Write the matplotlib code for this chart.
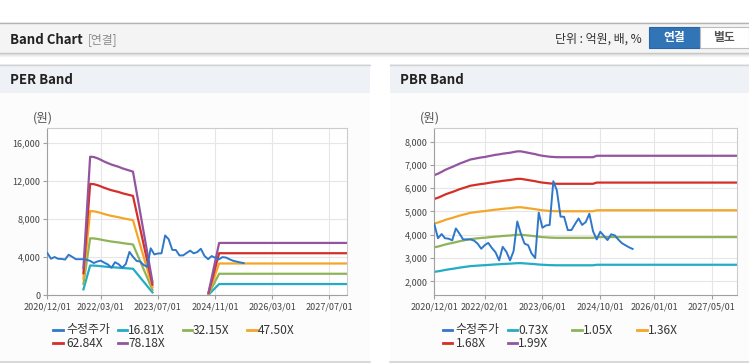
import numpy as np
import pandas as pd
import matplotlib
matplotlib.use('Agg')
import matplotlib.pyplot as plt
from matplotlib.patches import Rectangle
from matplotlib.lines import Line2D

plt.rcParams['font.family'] = ['Noto Sans CJK KR', 'DejaVu Sans']

W, H = 749, 364

# 수정주가 (월별, 2020/12 ~ 2025/07)
price_dates = pd.date_range('2020-12-01', periods=56, freq='MS')
price = [4460, 3850, 4030, 3850, 3830, 3760, 4270, 4050, 3800, 3800,
         3800, 3750, 3620, 3400, 3560, 3650, 3430, 3250, 2900, 3480,
         3270, 2900, 3300, 4570, 4050, 3620, 3550, 3200, 3000, 4950,
         4300, 4400, 4420, 6300, 5900, 4780, 4770, 4200, 4200, 4450,
         4700, 4420, 4550, 4900, 4150, 3800, 4130, 3950, 3770, 4020,
         3970, 3800, 3640, 3550, 3460, 3390]

# PBR band 기준 BPS
bps_dates = list(pd.date_range('2020-12-01', periods=46, freq='MS')) + [pd.Timestamp('2027-12-01')]
bps = [3296, 3327, 3367, 3407, 3442, 3472, 3508, 3543, 3573, 3603,
       3633, 3648, 3663, 3678, 3688, 3704, 3719, 3734, 3744, 3759,
       3769, 3779, 3794, 3809, 3809, 3794, 3779, 3764, 3749, 3729,
       3714, 3704, 3693, 3688, 3683, 3683, 3683, 3683, 3683, 3683,
       3683, 3683, 3683, 3683, 3683, 3714, 3714]
pbr_multiples = [0.73, 1.05, 1.36, 1.68, 1.99]

# PER band 기준 EPS (적자 구간은 공백)
eps_dates = pd.to_datetime(['2021-10-05', '2021-12-01', '2022-01-01', '2022-02-01', '2022-03-01',
                            '2022-04-01', '2022-05-01', '2022-06-01', '2022-07-01', '2022-08-01',
                            '2022-09-01', '2022-10-01', '2022-11-01', '2022-12-01', '2023-05-16',
                            '2024-01-01', '2024-09-05', '2024-12-04', '2027-12-01'])
eps = [37, 186.6, 186.2, 184.5, 182.5, 180, 178, 176, 174.5, 173,
       171, 169.5, 168, 166.5, 18, np.nan, 4, 70.5, 70.5]
per_multiples = [16.81, 32.15, 47.50, 62.84, 78.18]

per_xticks = ['2020-12-01', '2022-03-01', '2023-07-01', '2024-11-01', '2026-03-01', '2027-07-01']
pbr_xticks = ['2020-12-01', '2022-02-01', '2023-06-01', '2024-10-01', '2026-01-01', '2027-05-01']
per_yticks = [0, 4000, 8000, 12000, 16000]
pbr_yticks = [2000, 3000, 4000, 5000, 6000, 7000, 8000]

price_color = '#2f78c9'
band_colors = ['#22acc5', '#8fb457', '#f4a62a', '#d42f28', '#93559f']

fig = plt.figure(figsize=(W / 100, H / 100), dpi=100)


def fx(x):
    return x / W


def fy(y):
    return 1 - y / H


def box(x0, y0, x1, y1, zorder=-5, **kw):
    fig.add_artist(Rectangle((fx(x0), fy(y1)), (x1 - x0) / W, (y1 - y0) / H,
                             transform=fig.transFigure, zorder=zorder, **kw))


def hline(x0, x1, y, zorder=-4, **kw):
    fig.add_artist(Line2D([fx(x0), fx(x1)], [fy(y), fy(y)], transform=fig.transFigure,
                          zorder=zorder, **kw))


# 상단 헤더
box(0, 22, W, 53, facecolor='#f4f4f4', edgecolor='none')
hline(0, W, 22.5, color='#b4b4b4', lw=1)
for i, c in enumerate(['#c4c4c4', '#d8d8d8', '#e8e8e8', '#f3f3f3']):
    hline(0, W, 53 + i, color=c, lw=1)
fig.text(fx(10.5), fy(39.5), 'Band Chart', fontsize=9.5, fontweight='bold', color='#222',
         va='center', ha='left')
fig.text(fx(88), fy(39.5), '[연결]', fontsize=8.5, color='#8a8a8a', va='center', ha='left')
fig.text(fx(641.5), fy(39.5), '단위 : 억원, 배, %', fontsize=8.6, color='#333', va='center', ha='right')
box(648.5, 27.5, 700, 47.5, zorder=2, facecolor='#3175b7', edgecolor='#2a66a3', lw=0.8)
box(700, 27.5, 748.5, 47.5, zorder=2, facecolor='white', edgecolor='#bdbdbd', lw=0.8)
fig.text(fx(674), fy(37.8), '연결', fontsize=8.5, fontweight='bold', color='white',
         va='center', ha='center', zorder=3)
fig.text(fx(724), fy(37.8), '별도', fontsize=8.5, fontweight='bold', color='#555',
         va='center', ha='center', zorder=3)


def panel(x0, x1, title):
    box(x0, 64, x1, 93, facecolor='#eef1f6', edgecolor='none')
    box(x0, 93, x1, 362, facecolor='#fcfcfc', edgecolor='none')
    hline(x0, x1, 64.5, color='#d2d2d2', lw=1)
    hline(x0, x1, 362, color='#d2d2d2', lw=1.2)
    fig.text(fx(x0 + 10.5), fy(80), title, fontsize=9.5, fontweight='bold', color='#222',
             va='center', ha='left')


panel(0, 370, 'PER Band')
panel(389.5, W, 'PBR Band')


def setup_axes(rect, yticks, ylim, xticks):
    x0, y0, x1, y1 = rect
    ax = fig.add_axes([fx(x0), fy(y1), (x1 - x0) / W, (y1 - y0) / H])
    ax.set_facecolor('white')
    ax.set_xlim(pd.Timestamp('2020-12-01'), pd.Timestamp('2027-12-01'))
    ax.set_ylim(*ylim)
    ax.set_yticks(yticks)
    ax.set_yticklabels([f'{v:,}' for v in yticks])
    xt = pd.to_datetime(xticks)
    ax.set_xticks(xt)
    ax.set_xticklabels([d.strftime('%Y/%m/%d') for d in xt])
    ax.grid(True, color='#e6e6e6', lw=0.8)
    ax.set_axisbelow(True)
    for s in ['left', 'bottom']:
        ax.spines[s].set_color('#a0a0a0')
    for s in ['top', 'right']:
        ax.spines[s].set_color('#cccccc')
    ax.tick_params(direction='out', length=3, width=0.8, color='#a0a0a0',
                   labelsize=6.5, labelcolor='#444', pad=2)
    return ax


def legend(x_start, labels, colors):
    for i, (lab, c) in enumerate(zip(labels, colors)):
        row, col = divmod(i, 4)
        x = x_start + col * 64.8
        y = 330 + row * 13.3
        hline(x, x + 9.5, y, zorder=3, color=c, lw=2)
        fig.text(fx(x + (13 if col == 0 else 10.5)), fy(y), lab, fontsize=8.6, color='#333',
                 va='center', ha='left')


# PER Band
ax1 = setup_axes((47.3, 128.3, 347.3, 295.3), per_yticks, (0, 17580), per_xticks)
for m, c in zip(per_multiples, band_colors):
    ax1.plot(eps_dates, np.array(eps) * m, color=c, lw=1.6)
ax1.plot(price_dates, price, color=price_color, lw=1.4, zorder=5)
fig.text(fx(42.5), fy(118), '(원)', fontsize=9, color='#555', va='center', ha='center')
legend(53, ['수정주가'] + [f'{m:.2f}X' for m in per_multiples], [price_color] + band_colors)

# PBR Band
ax2 = setup_axes((434.3, 128.3, 737.3, 295.3), pbr_yticks, (1400, 8570), pbr_xticks)
for m, c in zip(pbr_multiples, band_colors):
    ax2.plot(bps_dates, np.array(bps) * m, color=c, lw=1.6)
ax2.plot(price_dates, price, color=price_color, lw=1.4, zorder=5)
fig.text(fx(429.5), fy(118), '(원)', fontsize=9, color='#555', va='center', ha='center')
legend(442.7, ['수정주가'] + [f'{m:.2f}X' for m in pbr_multiples], [price_color] + band_colors)

fig.savefig('out.png', dpi=100)
